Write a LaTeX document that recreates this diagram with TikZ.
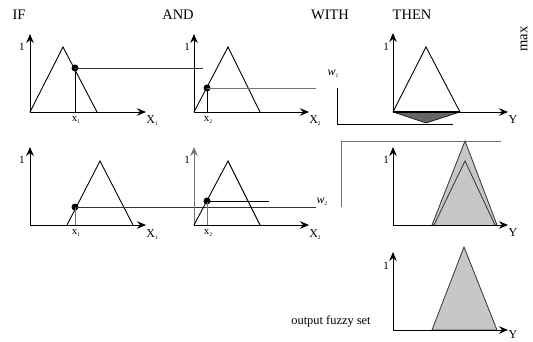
\documentclass[tikz,border=0pt]{standalone}
\usepackage{fontspec}
\setmainfont{Liberation Serif}
\usetikzlibrary{arrows.meta}
\newcommand{\tinysub}[1]{\raisebox{-0.35ex}{\fontsize{5.5}{6}\selectfont #1}}
\begin{document}
\begin{tikzpicture}[x=1pt,y=-1pt,
  tip/.tip={Stealth[length=9pt,width=7.5pt,inset=3pt]},
  axis/.style={line width=0.9pt,-tip},
  mf/.style={line width=0.9pt,black},
  cut/.style={line width=0.9pt,black!80},
  glevel/.style={line width=0.9pt,black!55},
  dotp/.style={circle,fill=black,inner sep=0pt,minimum size=7pt},
  head/.style={font=\fontsize{14.5}{16}\selectfont},
  small/.style={font=\fontsize{11}{12}\selectfont,inner sep=0.5pt},
  big/.style={font=\fontsize{12}{13}\selectfont,inner sep=0.5pt},
  one/.style={font=\fontsize{11}{12}\selectfont,inner sep=0.5pt},
  wl/.style={font=\fontsize{12}{13}\selectfont\itshape,inner sep=0.5pt},
  fillset/.style={fill=black!22,draw=black!80,line width=0.8pt}]
\useasboundingbox (0,0) rectangle (533,342);
% headings
\node[head] (hif) at (19,15) {IF};
\node[head] (hand) at (178,15) {AND};
\node[head] (hwith) at (330,15) {WITH};
\node[head] (hthen) at (412,15) {THEN};
\node[head,rotate=90] (hmax) at (524,39) {max};

% ---------- row 1 ----------
% IF panel
\draw[axis] (30,112) -- (30,34);
\draw[axis] (30,112) -- (146,112);
\node[one] (o11) at (22,47) {1};
\draw[mf] (30,112) -- (63,47) -- (97,112);
\node[dotp] (d11) at (75,68) {};
\draw[mf] (d11.center) -- (75,112);
\draw[cut] (d11.center) -- (203,68);
\node[small] (lx11) at (76,120) {x\tinysub{1}};
\node[big] (lX11) at (152,121) {X\tinysub{1}};
% AND panel
\draw[axis] (194,112) -- (194,34);
\draw[axis] (194,112) -- (309,112);
\node[one] (o12) at (187,47) {1};
\draw[mf] (194,112) -- (228,47) -- (260,112);
\node[dotp] (d12) at (207,88) {};
\draw[mf] (d12.center) -- (207,112);
\draw[glevel] (d12.center) -- (316,88);
\node[small] (lx21) at (208,120) {x\tinysub{2}};
\node[big] (lX21) at (315,121) {X\tinysub{2}};
% THEN panel
\node[wl] (w1) at (333,74) {w\tinysub{\itshape 1}};
\draw[mf] (337,88) -- (337,124) -- (453,124);
\fill[black!60] (393,112) -- (460,112) -- (426,123) -- cycle;
\draw[line width=0.6pt] (393,112) -- (426,123) -- (460,112);
\draw[line width=1.8pt] (393,112) -- (460,112);
\draw[axis] (393,112) -- (393,33);
\draw[axis] (393,112) -- (508,112);
\node[one] (o13) at (386,47) {1};
\draw[mf] (393,112) -- (426,47) -- (460,112);
\node[big] (lY1) at (513,120) {Y};

% ---------- row 2 ----------
% IF panel
\draw[axis] (30,225) -- (30,147);
\draw[axis] (30,225) -- (146,225);
\node[one] (o21) at (22,160) {1};
\draw[mf] (67,225) -- (100,161) -- (133,225);
\node[dotp] (d21) at (75,207) {};
\draw[glevel] (d21.center) -- (75,225);
\draw[cut] (d21.center) -- (316,207);
\node[small] (lx12) at (76,233) {x\tinysub{1}};
\node[big] (lX12) at (152,235) {X\tinysub{1}};
% AND panel
\draw[glevel,-tip] (194,225) -- (194,147);
\draw[axis] (194,225) -- (309,225);
\node[one] (o22) at (187,160) {1};
\draw[mf] (194,225) -- (228,161) -- (260,225);
\node[dotp] (d22) at (207,201) {};
\draw[glevel] (d22.center) -- (207,225);
\draw[mf] (d22.center) -- (269,201);
\node[small] (lx22) at (208,233) {x\tinysub{2}};
\node[big] (lX22) at (315,235) {X\tinysub{2}};
% THEN panel
\node[wl] (w2) at (322,202) {w\tinysub{\itshape 2}};
\draw[glevel] (341,207) -- (341,141) -- (501,141);
\draw[fillset] (432,225) -- (465,141) -- (497,225) -- cycle;
\draw[fillset] (434,225) -- (465,161) -- (495,225);
\draw[axis] (393,225) -- (393,147);
\draw[axis] (393,225) -- (508,225);
\node[one] (o23) at (386,160) {1};
\node[big] (lY2) at (513,233) {Y};

% ---------- row 3 ----------
\draw[fillset] (432,330) -- (464,247) -- (497,330) -- cycle;
\draw[axis] (393,330) -- (393,252);
\draw[axis] (393,330) -- (508,330);
\node[one] (o33) at (386,266) {1};
\node[big] (lY3) at (513,335) {Y};
\node[font=\fontsize{12.4}{13}\selectfont,inner sep=0.5pt] (ofs) at (331,321) {output fuzzy set};
\end{tikzpicture}
\end{document}
